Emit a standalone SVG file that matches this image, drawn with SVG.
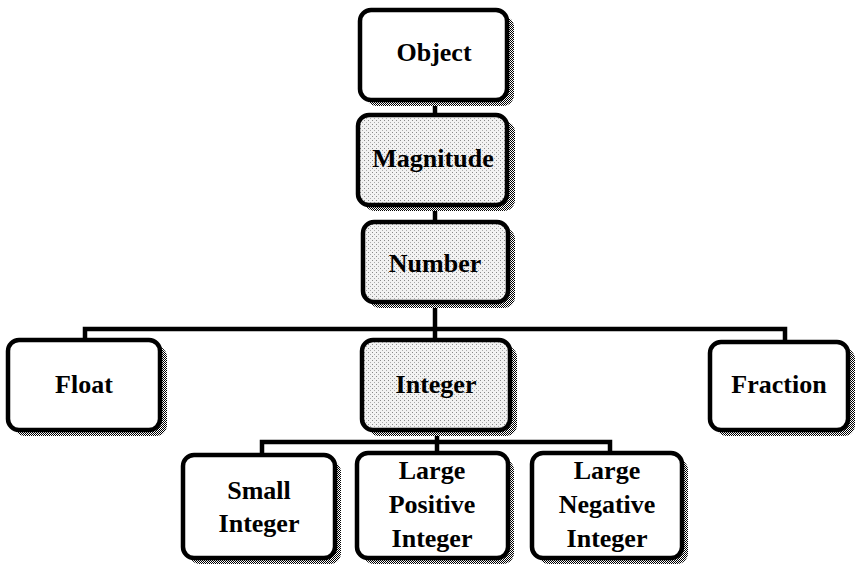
<svg xmlns="http://www.w3.org/2000/svg" width="856" height="566" viewBox="0 0 856 566">
<defs>
<pattern id="checker" width="2" height="2" patternUnits="userSpaceOnUse">
<rect width="2" height="2" fill="#fff"/>
<rect width="1" height="1" fill="#000"/>
<rect x="1" y="1" width="1" height="1" fill="#000"/>
</pattern>
<pattern id="stipple" width="4" height="4" patternUnits="userSpaceOnUse">
<rect width="4" height="4" fill="#f2f2f2"/>
<rect x="0" y="0" width="1" height="1" fill="#888"/>
<rect x="2" y="2" width="1" height="1" fill="#aaa"/>
</pattern>
</defs>
<style>
.shadow{fill:url(#checker);stroke:none}
.box{fill:#fff;stroke:#000;stroke-width:4.5}
.shaded{fill:url(#stipple)}
.lbl{font-family:"Liberation Serif","Times New Roman",serif;font-weight:bold;font-size:26px;fill:#000;text-anchor:middle}
.conn{fill:none;stroke:#000;stroke-width:4.5}
</style>
<rect width="856" height="566" fill="#fff"/>
<g id="connectors">
<line class="conn" x1="435" y1="100" x2="435" y2="115"/>
<line class="conn" x1="435" y1="205" x2="435" y2="222"/>
<line class="conn" x1="435" y1="302" x2="435" y2="340"/>
<polyline class="conn" points="85,342 85,329 785,329 785,342"/>
<line class="conn" x1="437" y1="430" x2="437" y2="455"/>
<polyline class="conn" points="262,455 262,442 610,442 610,455"/>
</g>
<g id="object">
<rect class="shadow" x="366" y="16" width="148" height="90" rx="11"/>
<rect class="box" x="360" y="10" width="147" height="90" rx="11"/>
<text class="lbl" x="434" y="61">Object</text>
</g>
<g id="magnitude">
<rect class="shadow" x="364" y="121" width="151" height="90" rx="11"/>
<rect class="box shaded" x="358" y="115" width="149" height="90" rx="11"/>
<text class="lbl" x="433" y="167">Magnitude</text>
</g>
<g id="number">
<rect class="shadow" x="369" y="228" width="146" height="80" rx="11"/>
<rect class="box shaded" x="363" y="222" width="145" height="80" rx="11"/>
<text class="lbl" x="435" y="272">Number</text>
</g>
<g id="float">
<rect class="shadow" x="14" y="346" width="153" height="90" rx="11"/>
<rect class="box" x="8" y="340" width="152" height="90" rx="11"/>
<text class="lbl" x="84" y="393">Float</text>
</g>
<g id="integer">
<rect class="shadow" x="368" y="346" width="149" height="90" rx="11"/>
<rect class="box shaded" x="362" y="340" width="148" height="90" rx="11"/>
<text class="lbl" x="436" y="393">Integer</text>
</g>
<g id="fraction">
<rect class="shadow" x="716" y="348" width="139" height="88" rx="11"/>
<rect class="box" x="710" y="342" width="138" height="88" rx="11"/>
<text class="lbl" x="779" y="393">Fraction</text>
</g>
<g id="small-integer">
<rect class="shadow" x="189" y="461" width="152" height="103" rx="11"/>
<rect class="box" x="183" y="455" width="152" height="103" rx="11"/>
<text class="lbl" x="259" y="499">Small</text>
<text class="lbl" x="259" y="532">Integer</text>
</g>
<g id="large-positive-integer">
<rect class="shadow" x="363" y="459" width="151" height="105" rx="11"/>
<rect class="box" x="357" y="453" width="151" height="105" rx="11"/>
<text class="lbl" x="432" y="479">Large</text>
<text class="lbl" x="432" y="513">Positive</text>
<text class="lbl" x="432" y="547">Integer</text>
</g>
<g id="large-negative-integer">
<rect class="shadow" x="538" y="459" width="150" height="105" rx="11"/>
<rect class="box" x="532" y="453" width="150" height="105" rx="11"/>
<text class="lbl" x="607" y="479">Large</text>
<text class="lbl" x="607" y="513">Negative</text>
<text class="lbl" x="607" y="547">Integer</text>
</g>
</svg>
